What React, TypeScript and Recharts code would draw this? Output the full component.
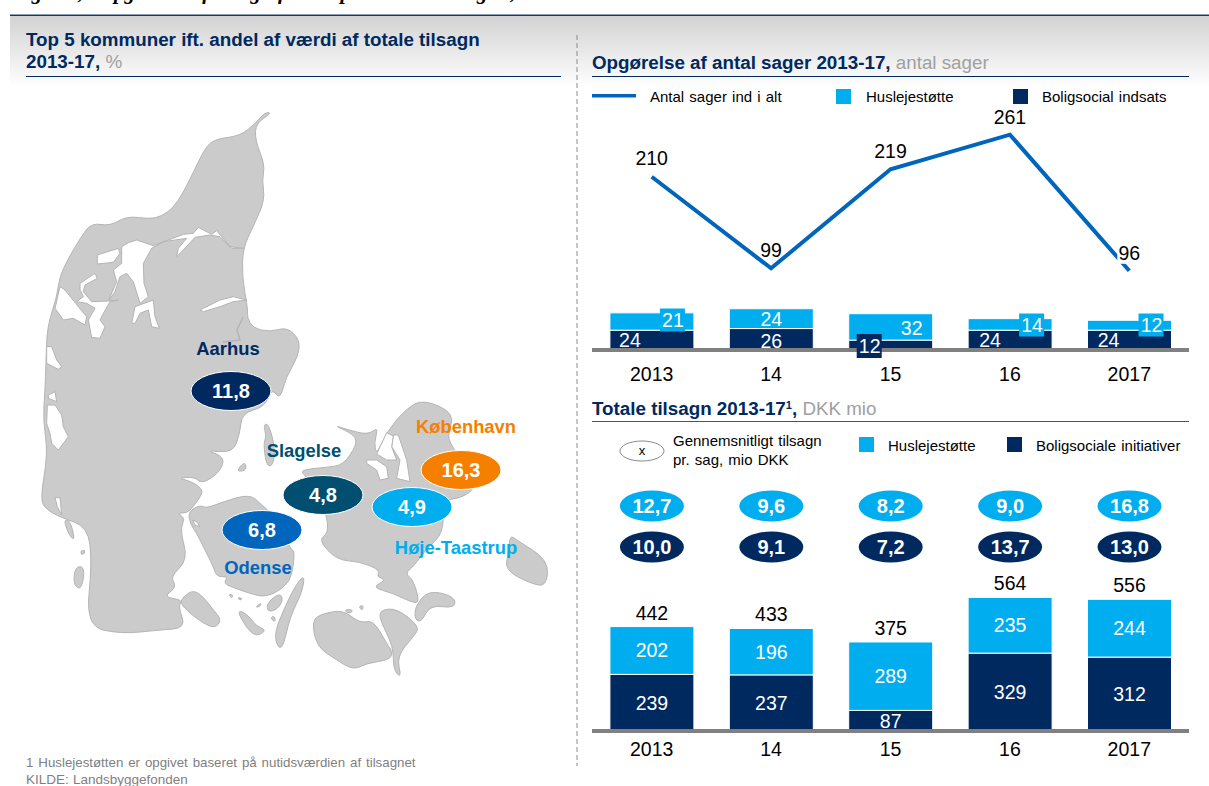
import React from "react";
import { ComposedChart, ScatterChart, Bar, Line, Scatter, XAxis, YAxis, LabelList } from "recharts";

const years = ["2013", "14", "15", "16", "2017"];
const casesTotal = [210, 99, 219, 261, 96];
const casesRent = [21, 24, 32, 14, 12];
const casesSocial = [24, 26, 12, 24, 24];
const grantsRent = [202, 196, 289, 235, 244];
const grantsSocial = [239, 237, 87, 329, 312];
const grantsTotal = [442, 433, 375, 564, 556];
const avgRent = [12.7, 9.6, 8.2, 9.0, 16.8];
const avgSocial = [10.0, 9.1, 7.2, 13.7, 13.0];

const cities = ["Aarhus", "Slagelse", "Odense", "København", "Høje-Taastrup"];
const cityShare = [11.8, 4.8, 6.8, 16.3, 4.9];
const cityMapX = [231, 323, 262, 461, 412];
const cityMapY = [391, 495, 530, 470, 507];

const NAVY = "#002960";
const CYAN = "#00aeef";
const BLUE = "#0065bd";
const TEAL = "#004f71";
const ORANGE = "#f58000";
const FONT = "'Liberation Sans', Arial, sans-serif";

const cityColor = [NAVY, TEAL, BLUE, ORANGE, CYAN];
const cityLabelDx = [-3, -19, -4, 5, 44];
const cityLabelDy = [-36, -38, 44, -37, 47];

const casesData = years.map((year, i) => ({ year, total: casesTotal[i], rent: casesRent[i], social: casesSocial[i] }));
const grantsData = years.map((year, i) => ({
  year, rent: grantsRent[i], social: grantsSocial[i], total: grantsTotal[i], avgRent: avgRent[i], avgSocial: avgSocial[i],
}));
const cityData = cities.map((name, i) => ({ name, x: cityMapX[i], y: cityMapY[i], share: cityShare[i], i }));

const comma = (v: number) => v.toFixed(1).replace(".", ",");

// Decorative map of Denmark, traced in picture pixels
const jutland = "272,113 265,112 256,123 240,136 215,139 205,148 193,173 183,193 173,208 162,216 150,219 127,216 110,226 92,223 82,235 60,273 57,297 47,327 46,363 45,390 43,420 48,453 40,500 47,510 60,517 88,527 92,563 86,626 120,634 160,630 186,628 178,606 183,600 163,597 177,587 170,577 188,560 180,530 185,518 177,513 187,513 193,507 203,493 200,487 190,481 178,478 195,477 202,484 220,472 225,457 205,450 233,453 240,433 242,413 265,407 272,388 280,400 286,377 298,357 300,340 287,327 270,332 253,328 247,317 248,310 242,277 243,248 253,227 265,200 262,180 265,165 255,140 256,123";
const limfjord = [
  "232,465 295,445 300,460 280,487 232,492",
  "180,550 225,520 232,535 195,555 190,575 215,605 265,603 295,600 270,605 250,640 240,660 255,680 240,715 215,712 205,660 225,625 200,610 170,605 190,590 180,570",
  "305,440 325,428 350,420 400,437 490,403 520,400 535,382 575,403 590,392 630,440 670,445 635,445 600,410 570,405 525,412 490,450 470,470 475,445 500,415 430,425 395,445 370,490 372,550 385,590 360,610 340,545 320,520 300,530 285,575 265,603 290,545 280,510 305,490",
  "120,560 135,570 175,620 200,650 195,675 160,655 130,660 105,625",
  "335,670 345,620 400,600 405,650 418,685 395,680 385,630 360,640 345,670",
  "540,630 600,600 640,590 680,600 640,605 600,620 550,635",
];
const westHoles = [
  "80,50 95,50 110,90 125,110 115,118 80,100",
  "82,225 105,225 125,255 130,290 145,320 115,360 95,340 90,310 80,280",
  "85,195 105,185 110,215 85,205",
  "105,503 120,503 125,555 112,530",
];
const westIslands = [
  "130,570 150,570 165,630 150,620",
  "183,662 195,660 193,672 183,674",
  "165,710 195,710 185,780 160,765",
];
const eastLand = [
  "25,395 60,375 80,385 130,365 210,342 245,375 270,395 330,505 345,515 335,590 310,625 260,650 225,645 165,625 130,610 145,590 110,590 100,560 70,500 50,460 30,430",
  "375,585 365,640 330,710 305,820 280,770 310,690 350,610",
  "260,680 270,660 300,640 310,660 290,690 265,695",
  "170,690 200,700 230,740 260,750 230,770 200,745",
  "145,642 160,645 155,655", "172,652 188,655 180,662", "225,682 245,668 240,680", "270,712 285,708 285,728",
  "10,650 40,630 70,650 100,690 125,720 105,745 70,730 30,700 0,670",
  "250,135 265,130 285,200 280,255 260,260 250,190 260,170",
  "175,265 195,245 200,270 175,275",
  "358,270 440,262 490,255 530,195 525,165 460,135 500,148 565,165 595,140 582,190 590,225 620,155 680,85 730,58 825,100 800,170 825,210 870,320 880,330 840,355 790,360 790,460 740,505 700,560 675,580 700,600 720,670 690,665 640,640 575,622 620,600 590,590 600,570 540,545 470,540 415,480 445,460 440,400 380,290",
  "990,465 1010,480 1105,540 1100,620 1050,610 975,570 985,520",
  "600,690 650,685 720,740 700,770 650,830 665,895 640,870 640,800 600,720",
  "395,720 430,700 490,690 540,730 580,720 620,790 640,820 625,840 560,850 520,870 470,840 410,800",
  "705,680 745,630 825,650 825,685 750,675 725,725 705,720",
  "490,690 520,688 510,702", "535,680 550,675 548,692",
];
const eastHoles = [
  "560,240 590,240 620,260 625,295 600,300 590,270 560,250",
  "640,165 655,165 680,240 690,305 650,295 660,240 635,200",
  "590,222 620,158 640,168 635,200 650,240 620,240",
  "38,420 50,425 60,440 45,435",
];

const MAP_FILL = "#cbcbcb";
const MAP_EDGE = "#b4b4b4";

// Rounds a traced outline so that the coast has no hard corners
const smooth = (s: string) => {
  const p = s.split(" ").map((q) => q.split(",").map(Number));
  const mid = (a: number[], b: number[]) => `${(a[0] + b[0]) / 2} ${(a[1] + b[1]) / 2}`;
  let d = `M${mid(p[p.length - 1], p[0])}`;
  p.forEach((q, i) => {
    d += ` Q${q[0]} ${q[1]} ${mid(q, p[(i + 1) % p.length])}`;
  });
  return d + "Z";
};
const straight = (s: string) => `M${s.replace(/ /g, " L").replace(/,/g, " ")}Z`;

const Polys = ({ list, fill, ox, oy, k = 1 / 3, sharp = false }: { list: string[]; fill: string; ox: number; oy: number; k?: number; sharp?: boolean }) => (
  <g transform={`translate(${ox} ${oy}) scale(${k})`}>
    {list.map((p, i) => (
      <path key={i} d={sharp ? straight(p) : smooth(p)} fill={fill} stroke={MAP_EDGE} strokeWidth={1 / k} strokeLinejoin="round" />
    ))}
  </g>
);

const T = (props: any) => <text fontFamily={FONT} {...props} />;

const LABEL_SIZE = 19.5;

// Label callbacks
const navyDx = [-22, 0, -21, -20, -21];
const navyCy = [340, 341, 346, 340, 340];
const cyanDx = [21, 0, 21, 22, 22];
const cyanCy = [320, 319, 328, 325, 325];
const cyanBox = [true, false, false, true, true];
const CHART1_TOP = 100;

const NavyCaseLabel = (p: any) => {
  const cx = p.x + p.width / 2 + navyDx[p.index];
  const cy = navyCy[p.index] - CHART1_TOP;
  return (
    <g>
      {p.index === 2 && <rect x={cx - 13} y={cy - 12} width={25} height={24} fill={NAVY} />}
      <T x={cx} y={cy + 7} textAnchor="middle" fontSize={LABEL_SIZE} fill="#fff">{p.value}</T>
    </g>
  );
};
const CyanCaseLabel = (p: any) => {
  const cx = p.x + p.width / 2 + cyanDx[p.index];
  const cy = cyanCy[p.index] - CHART1_TOP;
  return (
    <g>
      {cyanBox[p.index] && <rect x={cx - 13} y={cy - 11.5} width={25} height={23} fill={CYAN} />}
      <T x={cx} y={cy + 7} textAnchor="middle" fontSize={LABEL_SIZE} fill="#fff">{p.value}</T>
    </g>
  );
};
const lineDy = [-11.5, -11, -11, -11, -11];
const TotalCaseLabel = (p: any) => {
  const i = p.index;
  return (
    <g>
      {i === 4 && <rect x={p.x - 12} y={p.y - 29} width={24} height={22} fill="#fff" />}
      <T x={p.x} y={p.y + lineDy[i]} textAnchor="middle" fontSize={LABEL_SIZE} fill="#000">{p.value}</T>
    </g>
  );
};

const CenterWhite = (p: any) => (
  <T x={p.x + p.width / 2} y={p.y + p.height / 2 + 7} textAnchor="middle" fontSize={LABEL_SIZE} fill="#fff">{p.value}</T>
);
const TotalGrant = (p: any) => (
  <T x={p.x + p.width / 2} y={p.y - 7} textAnchor="middle" fontSize={LABEL_SIZE} fill="#000">{p.value}</T>
);
const Pill = (fill: string, cy: number) => (p: any) => {
  const cx = p.x + p.width / 2;
  return (
    <g>
      <ellipse cx={cx} cy={cy} rx={32} ry={15.5} fill={fill} />
      <T x={cx} y={cy + 7} textAnchor="middle" fontSize={20} fontWeight={700} fill="#fff">{comma(p.value)}</T>
    </g>
  );
};

const CityShape = (p: any) => {
  const i = p.payload.i;
  const c = cityColor[i];
  return (
    <g>
      <ellipse cx={p.cx} cy={p.cy} rx={40} ry={19.5} fill={c} stroke="#fff" strokeWidth={1} />
      <T x={p.cx} y={p.cy + 7} textAnchor="middle" fontSize={20} fontWeight={700} fill="#fff">{comma(p.payload.share)}</T>
      <T x={p.cx + cityLabelDx[i]} y={p.cy + cityLabelDy[i]} textAnchor="middle" fontSize={18.4} fontWeight={700} fill={c}>{cities[i]}</T>
    </g>
  );
};

const box = (left: number, top: number, width: number, height: number): React.CSSProperties => ({
  position: "absolute", left, top, width, height,
});

const TITLE = 18.8;
const LEG = 15;
const GREY = "#a0a0a0";

export default function App() {
  return (
    <div style={{ ...box(0, 0, 1209, 786), overflow: "hidden", background: "#fff" }}>
      <svg style={box(0, 0, 1209, 786)} width={1209} height={786}>
        <defs>
          <linearGradient id="hdr" x1="0" y1="0" x2="0" y2="1">
            <stop offset="0" stopColor="#d2d2d2" />
            <stop offset="1" stopColor="#ffffff" />
          </linearGradient>
        </defs>
        <text x={12} y={-1} fontFamily="'Liberation Serif', serif" fontStyle="italic" fontWeight={700} fontSize={21}>
          Figur 4,6 Opgørelse af tilsagn fordelt på kommuner og år,
        </text>
        <rect x={10} y={15} width={1199} height={72} fill="url(#hdr)" />
        <rect x={10} y={14.5} width={1199} height={1.5} fill="#123a6b" />
        <line x1={577} y1={35} x2={577} y2={766} stroke="#8a8a8a" strokeWidth={1} strokeDasharray="5 3" />

        {/* map */}
        <Polys list={[jutland]} fill={MAP_FILL} ox={0} oy={0} k={1} />
        <Polys list={limfjord} fill="#fff" ox={20} oy={100} sharp />
        <Polys list={westHoles} fill="#fff" ox={20} oy={330} sharp />
        <Polys list={westIslands} fill={MAP_FILL} ox={20} oy={330} />
        <Polys list={eastLand} fill={MAP_FILL} ox={180} oy={380} />
        <Polys list={eastHoles} fill="#fff" ox={180} oy={380} sharp />
        <polyline points="243,317 237,330 240,340 223,342" fill="none" stroke={MAP_EDGE} strokeWidth={1.5} />

        {/* titles */}
        <T x={26} y={46} fontSize={TITLE} fontWeight={700} fill={NAVY}>Top 5 kommuner ift. andel af værdi af totale tilsagn</T>
        <T x={26} y={68} fontSize={TITLE} fontWeight={700} fill={NAVY}>2013-17, <tspan fontWeight={400} fill={GREY}>%</tspan></T>
        <rect x={26} y={76} width={535} height={1} fill={NAVY} />
        <T x={592} y={69} fontSize={TITLE} fontWeight={700} fill={NAVY}>Opgørelse af antal sager 2013-17, <tspan fontWeight={400} fill={GREY}>antal sager</tspan></T>
        <rect x={592} y={76} width={597} height={1} fill={NAVY} />
        <T x={592} y={415} fontSize={TITLE} fontWeight={700} fill={NAVY}>Totale tilsagn 2013-17<tspan fontSize={11} dy={-6}>1</tspan><tspan dy={6}>, </tspan><tspan fontWeight={400} fill={GREY}>DKK mio</tspan></T>
        <rect x={592} y={421} width={597} height={1} fill="#2f5b92" />

        {/* legends */}
        <rect x={592} y={94} width={44} height={3.5} fill={BLUE} />
        <T x={650} y={102} fontSize={LEG} wordSpacing={1}>Antal sager ind i alt</T>
        <rect x={836} y={89} width={15} height={15} fill={CYAN} />
        <T x={866} y={102} fontSize={LEG}>Huslejestøtte</T>
        <rect x={1013} y={89} width={15} height={15} fill={NAVY} />
        <T x={1042} y={102} fontSize={LEG} wordSpacing={1}>Boligsocial indsats</T>

        <ellipse cx={642} cy={451} rx={22} ry={10} fill="#fff" stroke="#8a8a8a" />
        <T x={642} y={455} textAnchor="middle" fontSize={13}>x</T>
        <T x={673} y={446} fontSize={LEG} wordSpacing={1}>Gennemsnitligt tilsagn</T>
        <T x={673} y={465} fontSize={LEG} wordSpacing={1}>pr. sag, mio DKK</T>
        <rect x={859} y={437} width={15} height={15} fill={CYAN} />
        <T x={888} y={451} fontSize={LEG}>Huslejestøtte</T>
        <rect x={1007} y={437} width={15} height={15} fill={NAVY} />
        <T x={1036} y={451} fontSize={LEG} wordSpacing={1}>Boligsociale initiativer</T>

        {/* footnote */}
        <T x={26} y={767} fontSize={13.3} fill="#7f7f7f" wordSpacing={1.2}>1 Huslejestøtten er opgivet baseret på nutidsværdien af tilsagnet</T>
        <T x={26} y={784} fontSize={13.5} fill="#7f7f7f" wordSpacing={0.5}>KILDE: Landsbyggefonden</T>
      </svg>

      <div style={box(0, 0, 577, 786)}>
        <ScatterChart width={577} height={786} margin={{ top: 0, right: 0, bottom: 0, left: 0 }}>
          <XAxis type="number" dataKey="x" domain={[0, 577]} hide />
          <YAxis type="number" dataKey="y" domain={[0, 786]} reversed hide />
          <Scatter data={cityData} isAnimationActive={false} shape={CityShape} />
        </ScatterChart>
      </div>

      <div style={box(592, CHART1_TOP, 597, 300)}>
        <ComposedChart width={597} height={300} data={casesData} barCategoryGap="15%" margin={{ top: 0, right: 0, bottom: 10, left: 0 }}>
          <XAxis dataKey="year" height={40} tickLine={false} axisLine={{ stroke: "#808080", strokeWidth: 4 }}
            tick={{ fontSize: LABEL_SIZE, fill: "#000", fontFamily: FONT }} tickMargin={11} interval={0} />
          <YAxis hide domain={[0, 303]} />
          <Bar dataKey="social" stackId="a" fill={NAVY} stroke="#fff" strokeWidth={1} isAnimationActive={false} />
          <Bar dataKey="rent" stackId="a" fill={CYAN} stroke="#fff" strokeWidth={1} isAnimationActive={false}>
            <LabelList dataKey="social" content={NavyCaseLabel} />
            <LabelList dataKey="rent" content={CyanCaseLabel} />
          </Bar>
          <Line dataKey="total" stroke={BLUE} strokeWidth={4} strokeLinejoin="miter" dot={false} isAnimationActive={false}>
            <LabelList dataKey="total" content={TotalCaseLabel} />
          </Line>
        </ComposedChart>
      </div>

      <div style={box(592, 480, 597, 290)}>
        <ComposedChart width={597} height={290} data={grantsData} barCategoryGap="15%" margin={{ top: 0, right: 0, bottom: 9, left: 0 }}>
          <XAxis dataKey="year" height={30} tickLine={false} axisLine={{ stroke: "#808080", strokeWidth: 4 }}
            tick={{ fontSize: LABEL_SIZE, fill: "#000", fontFamily: FONT }} tickMargin={5} interval={0} />
          <YAxis hide domain={[0, 1060]} />
          <Bar dataKey="social" stackId="a" fill={NAVY} stroke="#fff" strokeWidth={1} isAnimationActive={false}>
            <LabelList dataKey="social" content={CenterWhite} />
          </Bar>
          <Bar dataKey="rent" stackId="a" fill={CYAN} stroke="#fff" strokeWidth={1} isAnimationActive={false}>
            <LabelList dataKey="rent" content={CenterWhite} />
            <LabelList dataKey="total" content={TotalGrant} />
            <LabelList dataKey="avgRent" content={Pill(CYAN, 26)} />
            <LabelList dataKey="avgSocial" content={Pill(NAVY, 67)} />
          </Bar>
        </ComposedChart>
      </div>
    </div>
  );
}
